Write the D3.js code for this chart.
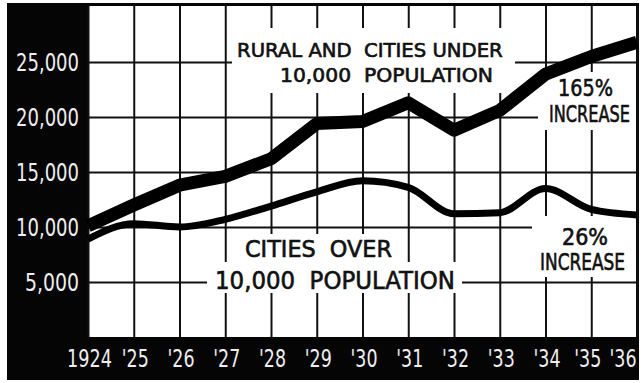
<!DOCTYPE html>
<html>
<head>
<meta charset="utf-8">
<script src="https://cdn.jsdelivr.net/npm/d3@7"></script>
<style>
  html, body { margin: 0; padding: 0; background: #fff; }
  svg { display: block; }
  .lbl { font-family: "DejaVu Sans Condensed", "DejaVu Sans", "Liberation Sans", sans-serif; }
</style>
</head>
<body>
<svg id="chart" width="644" height="383"></svg>
<script>
// Population served, 1924–1936
const years = [1924, 1925, 1926, 1927, 1928, 1929, 1930, 1931, 1932, 1933, 1934, 1935, 1936];
const yearLabels = ["1924", "'25", "'26", "'27", "'28", "'29", "'30", "'31", "'32", "'33", "'34", "'35", "'36"];
const ruralValues = [10100, 12000, 13800, 14600, 16200, 19400, 19600, 21300, 18800, 20600, 23900, 25500, 26800];
const cityValues  = [8900, 10300, 10000, 10700, 11900, 13200, 14200, 13600, 11200, 11300, 13500, 11600, 11100];
const yTicks = [5000, 10000, 15000, 20000, 25000];

const svg = d3.select("#chart");
const plot = { left: 88, right: 637, top: 6, bottom: 337 };

const x = d3.scaleLinear().domain([1924, 1936]).range([plot.left, plot.right]);
const y = d3.scaleLinear().domain([0, 30000]).range([plot.bottom, 7]);

// black frame with white plotting field
svg.append("rect").attr("x", 7).attr("y", 3).attr("width", 632).attr("height", 377).attr("fill", "#050505");
svg.append("rect").attr("x", plot.left).attr("y", plot.top)
  .attr("width", 636 - plot.left).attr("height", plot.bottom - plot.top).attr("fill", "#fff");

// grid
const grid = svg.append("g");
grid.append("g")
  .attr("transform", `translate(0,${plot.bottom})`)
  .call(d3.axisBottom(x).tickValues(years).tickSize(plot.bottom - plot.top).tickFormat(""))
  .call(g => g.select(".domain").remove())
  .call(g => g.selectAll("line").attr("y2", -(plot.bottom - plot.top)).attr("stroke", "#111").attr("stroke-width", 2));
grid.append("g")
  .attr("transform", `translate(${plot.left},0)`)
  .call(d3.axisLeft(y).tickValues(yTicks).tickSize(-(636 - plot.left)).tickFormat(""))
  .call(g => g.select(".domain").remove())
  .call(g => g.selectAll("line").attr("stroke", "#111").attr("stroke-width", 2));

// white panels behind the lettering
const panels = [
  [232, 28, 515, 93],
  [538, 72, 636, 130],
  [532, 216, 636, 277],
  [240, 234, 400, 262],
  [207, 262, 462, 293]
];
svg.append("g").selectAll("rect").data(panels).join("rect")
  .attr("x", d => d[0]).attr("y", d => d[1])
  .attr("width", d => d[2] - d[0]).attr("height", d => d[3] - d[1])
  .attr("fill", "#fff");

// series lines
const lineRural = d3.line().x((d, i) => x(years[i])).y(d => y(d)).curve(d3.curveLinear);
const lineCity = d3.line().x((d, i) => x(years[i])).y(d => y(d)).curve(d3.curveMonotoneX);

svg.append("path").datum(cityValues)
  .attr("d", lineCity).attr("fill", "none").attr("stroke", "#000")
  .attr("stroke-width", 7).attr("stroke-linejoin", "round");
svg.append("path").datum(ruralValues)
  .attr("d", lineRural).attr("fill", "none").attr("stroke", "#000")
  .attr("stroke-width", 13).attr("stroke-linejoin", "round");

// y axis labels (narrow hand lettering)
svg.append("g")
  .attr("transform", `translate(79,0)`)
  .call(d3.axisLeft(y).tickValues(yTicks).tickSize(0).tickPadding(0).tickFormat(d3.format(",")))
  .call(g => g.select(".domain").remove())
  .call(g => g.selectAll("text")
    .attr("class", "lbl").attr("fill", "#eee").attr("font-size", 24).attr("dy", "0.35em")
    .attr("font-family", null)
    .attr("textLength", function () { return this.textContent.length > 5 ? 63 : 54; })
    .attr("lengthAdjust", "spacingAndGlyphs"));

// x axis labels; the last two are nudged left to stay inside the frame
const xShift = i => i === years.length - 1 ? -1 : (i === years.length - 2 ? -4 : 1);
svg.append("g")
  .attr("transform", `translate(0,${plot.bottom})`)
  .call(d3.axisBottom(x).tickValues(years).tickSize(0).tickPadding(0).tickFormat((d, i) => yearLabels[i]))
  .call(g => g.select(".domain").remove())
  .call(g => g.selectAll("text")
    .attr("class", "lbl").attr("fill", "#eee").attr("font-size", 25)
    .attr("font-family", null).attr("y", 30).attr("dy", 0)
    .attr("textLength", (d, i) => yearLabels[i].length > 3 ? 45 : 27)
    .attr("lengthAdjust", "spacingAndGlyphs")
    .attr("text-anchor", (d, i) => i === years.length - 1 ? "end" : "middle")
    .attr("dx", (d, i) => xShift(i)));

// lettering inside the field, squeezed horizontally to the hand-lettered width
const notes = [
  { t: "RURAL AND  CITIES UNDER", x0: 237, x1: 503, base: 57, size: 19.5 },
  { t: "10,000  POPULATION", x0: 280, x1: 493, base: 82, size: 19.5 },
  { t: "165%", x0: 558, x1: 613, base: 96, size: 23 },
  { t: "INCREASE", x0: 549, x1: 630, base: 122, size: 23 },
  { t: "26%", x0: 562, x1: 608, base: 245, size: 23 },
  { t: "INCREASE", x0: 540, x1: 625, base: 270, size: 23 },
  { t: "CITIES  OVER", x0: 245, x1: 392, base: 257, size: 23 },
  { t: "10,000  POPULATION", x0: 215, x1: 455, base: 289, size: 25 }
];
svg.append("g").selectAll("text").data(notes).join("text")
  .attr("class", "lbl")
  .attr("x", 0).attr("y", 0)
  .attr("font-size", d => d.size)
  .attr("fill", "#111")
  .attr("stroke", "#111")
  .attr("stroke-width", 0.6)
  .style("white-space", "pre")
  .text(d => d.t)
  .each(function (d) {
    const w = this.getComputedTextLength();
    d3.select(this).attr("transform", `translate(${d.x0},${d.base}) scale(${(d.x1 - d.x0) / w},1)`);
  });
</script>
</body>
</html>
